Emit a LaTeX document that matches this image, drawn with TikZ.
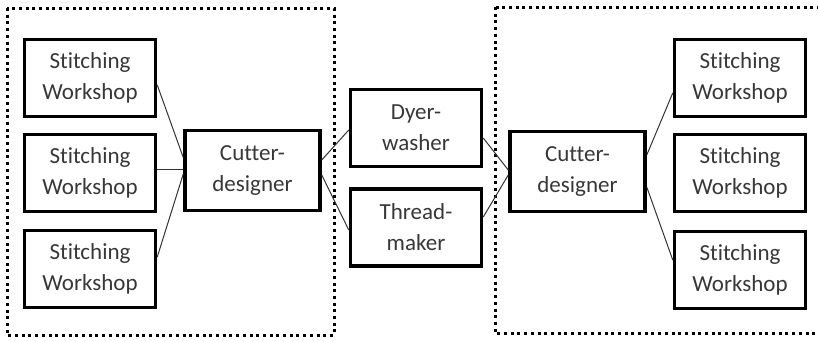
\documentclass[tikz,border=0pt]{standalone}
\usepackage{fontspec}
\setmainfont[Ligatures=NoCommon]{Carlito}
\begin{document}
\begin{tikzpicture}[x=1pt,y=-1pt,
  box/.style={draw=black,line width=3.5pt,fill=white,inner sep=0pt,align=center,
    text=black!78,font=\fontsize{23}{31}\selectfont},
  stbox/.style={box,minimum width=131pt,minimum height=77pt},
  cbox/.style={box,minimum width=135pt,minimum height=80pt},
  link/.style={draw=black!80,line width=1pt},
  group/.style={draw=black,line width=3pt,dash pattern=on 3pt off 3.7pt}]
\useasboundingbox (0,0) rectangle (818,340);
\draw[group] (7,8) rectangle (334,335);
\draw[group] (495,7) rectangle (824,333);
\node[stbox] (ls1) at (90,78) {Stitching\\Workshop};
\node[stbox] (ls2) at (90,173) {Stitching\\Workshop};
\node[stbox] (ls3) at (90,269) {Stitching\\Workshop};
\node[cbox] (lc) at (252.5,170.5) {Cutter-\\designer};
\node[stbox] (dw) at (416,128) {Dyer-\\washer};
\node[stbox] (tm) at (416,227.5) {Thread-\\maker};
\node[cbox] (rc) at (577.5,171.5) {Cutter-\\designer};
\node[stbox] (rs1) at (740,78) {Stitching\\Workshop};
\node[stbox] (rs2) at (740,173) {Stitching\\Workshop};
\node[stbox] (rs3) at (740,270) {Stitching\\Workshop};
\draw[link] ([yshift=-7pt]ls1.east) -- ([yshift=13pt]lc.west);
\draw[link] ([yshift=4pt]ls2.east) -- ([yshift=1.5pt]lc.west);
\draw[link] ([yshift=12pt]ls3.east) -- ([yshift=-3.5pt]lc.west);
\draw[link] ([yshift=10.5pt]lc.east) -- ([yshift=-2pt]dw.west);
\draw[link] ([yshift=-4.5pt]lc.east) -- ([yshift=-2.5pt]tm.west);
\draw[link] ([yshift=-10pt]dw.east) -- ([yshift=1.5pt]rc.west);
\draw[link] ([yshift=10.5pt]tm.east) -- ([yshift=-3.5pt]rc.west);
\draw[link] ([yshift=16.5pt]rc.east) -- ([yshift=-15pt]rs1.west);
\draw[link] ([yshift=-15.5pt]rc.east) -- ([yshift=10pt]rs3.west);
\end{tikzpicture}
\end{document}
